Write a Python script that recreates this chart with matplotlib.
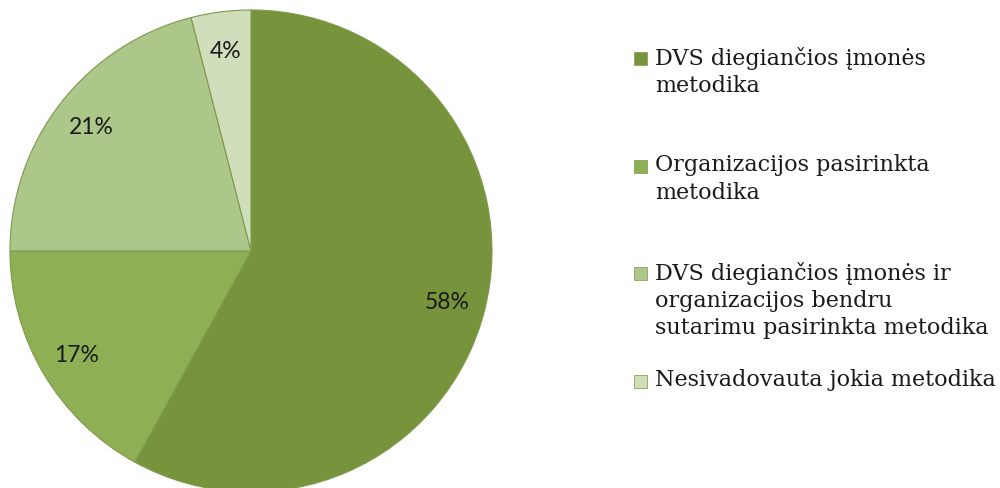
import matplotlib.pyplot as plt
from matplotlib.patches import Rectangle

labels = [
    'DVS diegiančios įmonės\nmetodika',
    'Organizacijos pasirinkta\nmetodika',
    'DVS diegiančios įmonės ir\norganizacijos bendru\nsutarimu pasirinkta metodika',
    'Nesivadovauta jokia metodika',
]
shares = [58, 17, 21, 4]
colors = ['#77933C', '#8FAF55', '#ADC689', '#D0DEBC']

fig = plt.figure(figsize=(10, 4.89), dpi=100)
W, H = 1000, 489
cx, cy, r = 251, 252, 241
ax = fig.add_axes([(cx - r) / W, (H - cy - r) / H, 2 * r / W, 2 * r / H])

wedges, texts, autotexts = ax.pie(
    shares,
    colors=colors,
    startangle=90,
    counterclock=False,
    autopct='%d%%',
    pctdistance=0.84,
    radius=1,
    wedgeprops=dict(edgecolor='#7E9A4C', linewidth=0.8),
    textprops=dict(family='Lato', fontsize=16.5, color='#1a1a1a'),
)
ax.set_xlim(-1, 1)
ax.set_ylim(-1, 1)
ax.set_aspect('equal')
ax.axis('off')

# legend drawn by hand: evenly spaced slots, text top-aligned
y_top = 47
step = 107.5
for i, (lab, col) in enumerate(zip(labels, colors)):
    y = y_top + i * step
    fig.add_artist(Rectangle((634 / W, 1 - (y + 19) / H), 13 / W, 13 / H,
                             transform=fig.transFigure, facecolor=col,
                             edgecolor='#8AA65A', linewidth=0.6))
    fig.text(655 / W, 1 - y / H, lab, family='DejaVu Serif', fontsize=16,
             va='top', ha='left', linespacing=1.3, color='#1a1a1a')

fig.savefig('out.png', dpi=100, facecolor='white')
